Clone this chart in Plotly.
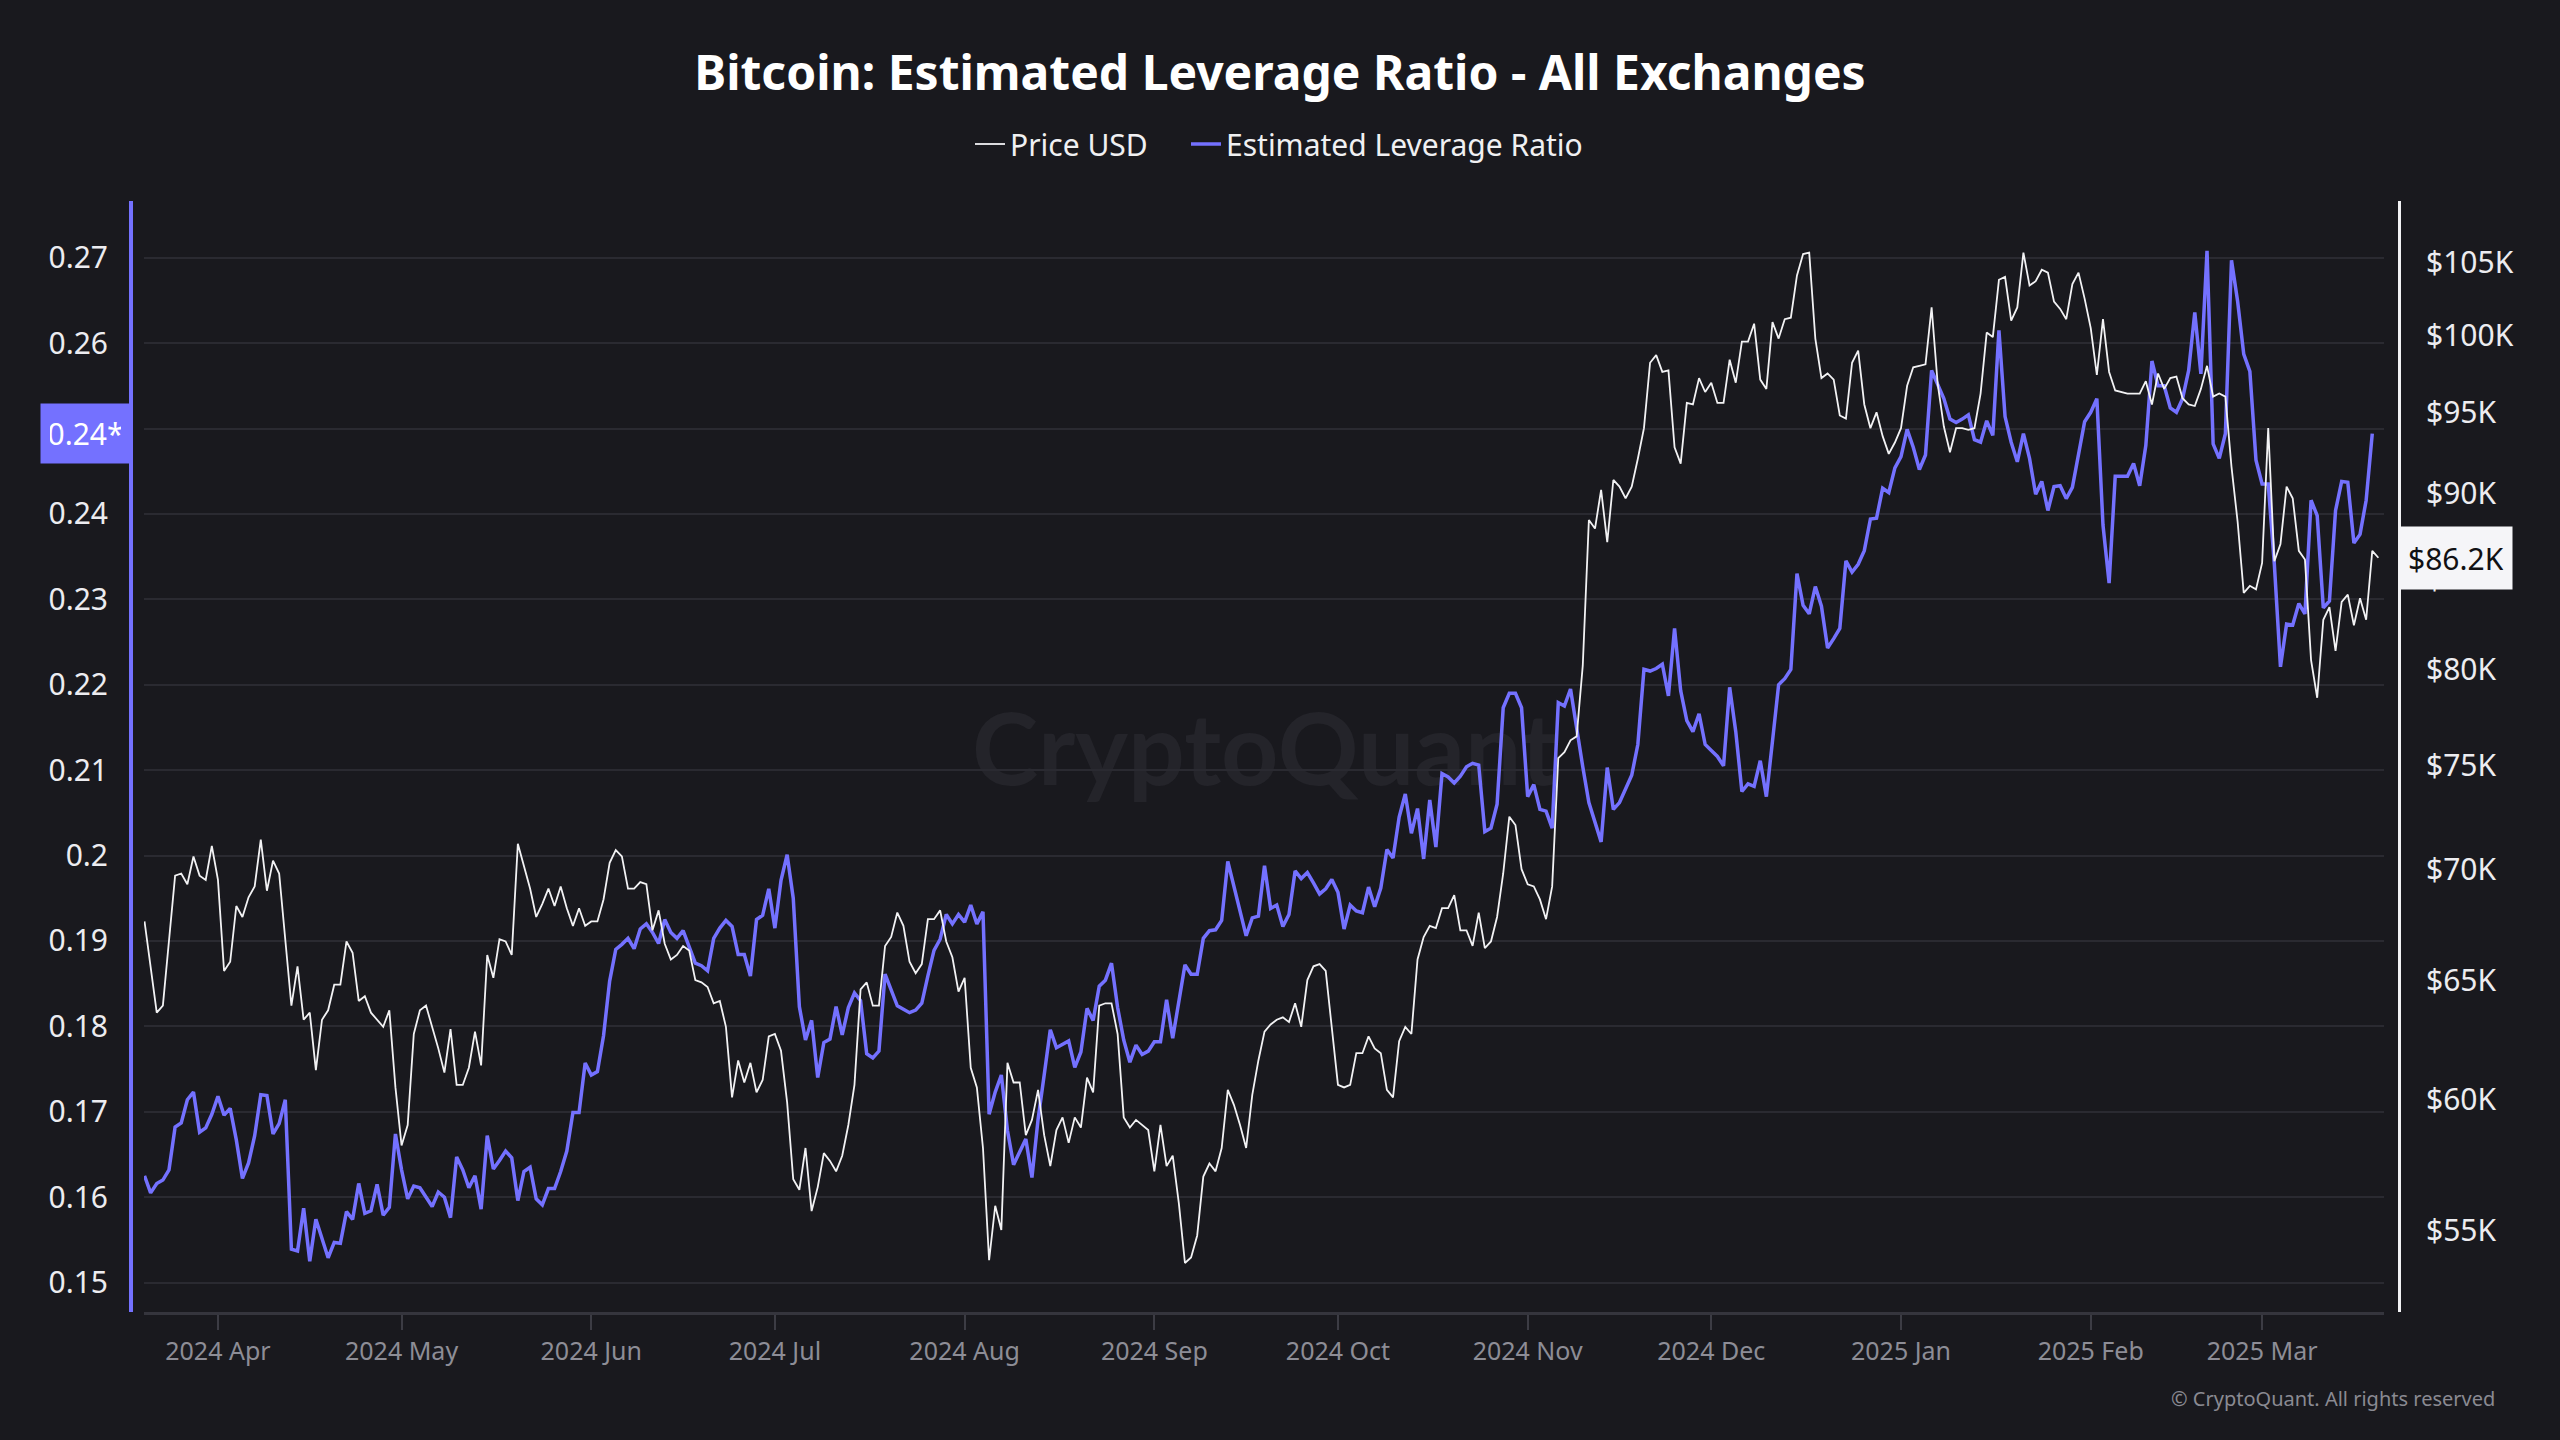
import math
import pandas as pd
import plotly.graph_objects as go

# ---------------- data (daily) ----------------
start_date = "2024-03-20"

price_usd = [
    # 2024-03-20 .. 2024-05-20
    67600, 65500, 63600, 63900, 66800, 69700, 69800, 69300, 70600, 69700,
    69500, 71100, 69500, 65400, 65800, 68300, 67800, 68700, 69200, 71400,
    69000, 70400, 69800, 66800, 63900, 65600, 63300, 63600, 61200, 63300,
    63700, 64800, 64800, 66700, 66200, 64100, 64300, 63600, 63300, 63000,
    63700, 60500, 58200, 59000, 62700, 63700, 63900, 63000, 62100, 61100,
    62900, 60600, 60600, 61300, 62800, 61400, 66100, 65100, 66800, 66700,
    66100, 71200,
    # 2024-05-21 .. 2024-07-19
    70100, 69100, 67800, 68400, 69100, 68300, 69200, 68200, 67400, 68200,
    67400, 67600, 67600, 68600, 70300, 70900, 70600, 69100, 69100, 69400,
    69300, 67200, 68100, 66600, 65900, 66100, 66500, 66300, 65000, 64900,
    64700, 64000, 64100, 63000, 60100, 61600, 60700, 61500, 60300, 60800,
    62600, 62700, 62000, 59900, 56900, 56500, 58100, 55700, 56600, 57900,
    57600, 57200, 57800, 59000, 60600, 64600, 64900, 63900, 63900, 66500,
    # 2024-07-20 .. 2024-09-18
    66900, 68000, 67400, 65800, 65300, 65700, 67700, 67700, 68100, 66700,
    66000, 64500, 65100, 61300, 60500, 58100, 53900, 55900, 55000, 61500,
    60700, 60700, 58600, 59200, 60400, 58600, 57400, 58800, 59300, 58300,
    59300, 58900, 60900, 60300, 63900, 64000, 64000, 62700, 59300, 58900,
    59200, 59000, 58800, 57200, 59000, 57400, 57800, 56000, 53800, 54000,
    54800, 57000, 57500, 57200, 58100, 60400, 59800, 59000, 58100, 60200,
    61600,
    # 2024-09-19 .. 2024-11-17
    62800, 63100, 63300, 63400, 63200, 64000, 63000, 65000, 65600, 65700,
    65400, 63000, 60600, 60500, 60600, 61900, 61900, 62600, 62100, 61900,
    60400, 60100, 62400, 63000, 62700, 65900, 66900, 67400, 67300, 68200,
    68200, 68800, 67200, 67200, 66500, 68000, 66400, 66700, 67800, 69800,
    72500, 72100, 70000, 69300, 69200, 68600, 67700, 69200, 75400, 75700,
    76300, 76500, 80200, 88400, 87900, 90200, 87100, 90800, 90400, 89700,
    # 2024-11-18 .. 2025-01-16
    90400, 92100, 94000, 98200, 98700, 97600, 97700, 92800, 91800, 95600,
    95500, 97200, 96300, 96900, 95600, 95600, 98400, 96900, 99600, 99600,
    100800, 97100, 96500, 100900, 99800, 101100, 101200, 104100, 105600, 105700,
    99800, 97200, 97500, 97100, 94800, 94600, 98200, 99000, 95500, 94000,
    95000, 93500, 92400, 93100, 94000, 96700, 97900, 98000, 98100, 101900,
    96800, 94100, 92500, 94000, 94000, 93900, 94000, 96200, 100200, 99900,
    # 2025-01-17 .. 2025-03-20
    103800, 104000, 101000, 101900, 105700, 103400, 103700, 104500, 104300, 102300,
    101800, 101100, 103500, 104300, 102500, 100500, 97400, 101100, 97600, 96400,
    96300, 96200, 96200, 96200, 97000, 95500, 97500, 96500, 97200, 97300,
    95900, 95500, 95400, 96500, 98000, 96000, 96200, 96000, 91600, 88300,
    84200, 84600, 84400, 85900, 94000, 86000, 87000, 90400, 89700, 86600,
    86100, 80500, 78500, 82700, 83400, 81000, 83700, 84100, 82400, 83900,
    82700, 86600, 86200,
]

leverage_ratio = [
    # 2024-03-20 .. 2024-05-20
    0.1625, 0.1605, 0.1616, 0.1620, 0.1632, 0.1682, 0.1687, 0.1714, 0.1723, 0.1676,
    0.1681, 0.1697, 0.1718, 0.1696, 0.1704, 0.1667, 0.1622, 0.1640, 0.1672, 0.1720,
    0.1719, 0.1674, 0.1686, 0.1714, 0.1539, 0.1537, 0.1587, 0.1525, 0.1574, 0.1551,
    0.1529, 0.1547, 0.1546, 0.1583, 0.1574, 0.1616, 0.1581, 0.1584, 0.1615, 0.1579,
    0.1588, 0.1674, 0.1632, 0.1598, 0.1613, 0.1611, 0.1600, 0.1589, 0.1606, 0.1600,
    0.1576, 0.1647, 0.1632, 0.1611, 0.1625, 0.1586, 0.1672, 0.1633, 0.1643, 0.1654,
    0.1646, 0.1596,
    # 2024-05-21 .. 2024-07-19
    0.1630, 0.1635, 0.1598, 0.1591, 0.1610, 0.1610, 0.1630, 0.1654, 0.1699, 0.1699,
    0.1757, 0.1743, 0.1747, 0.1789, 0.1853, 0.1890, 0.1896, 0.1903, 0.1891, 0.1914,
    0.1920, 0.1910, 0.1897, 0.1925, 0.1910, 0.1903, 0.1912, 0.1894, 0.1874, 0.1871,
    0.1865, 0.1903, 0.1915, 0.1924, 0.1917, 0.1884, 0.1884, 0.1859, 0.1925, 0.1930,
    0.1961, 0.1915, 0.1971, 0.2001, 0.1950, 0.1823, 0.1784, 0.1807, 0.1740, 0.1781,
    0.1785, 0.1823, 0.1790, 0.1822, 0.1839, 0.1830, 0.1768, 0.1763, 0.1771, 0.1861,
    # 2024-07-20 .. 2024-09-18
    0.1843, 0.1824, 0.1820, 0.1816, 0.1819, 0.1827, 0.1859, 0.1889, 0.1902, 0.1931,
    0.1920, 0.1931, 0.1922, 0.1942, 0.1920, 0.1934, 0.1697, 0.1723, 0.1743, 0.1678,
    0.1638, 0.1653, 0.1668, 0.1623, 0.1691, 0.1743, 0.1796, 0.1775, 0.1779, 0.1783,
    0.1752, 0.1770, 0.1821, 0.1807, 0.1847, 0.1854, 0.1874, 0.1822, 0.1784, 0.1758,
    0.1778, 0.1767, 0.1771, 0.1782, 0.1782, 0.1831, 0.1786, 0.1827, 0.1872, 0.1861,
    0.1861, 0.1903, 0.1912, 0.1913, 0.1924, 0.1993, 0.1965, 0.1937, 0.1906, 0.1927,
    0.1929,
    # 2024-09-19 .. 2024-11-17
    0.1988, 0.1938, 0.1942, 0.1917, 0.1931, 0.1982, 0.1973, 0.1980, 0.1968, 0.1955,
    0.1961, 0.1972, 0.1957, 0.1914, 0.1942, 0.1935, 0.1933, 0.1963, 0.1940, 0.1962,
    0.2007, 0.1997, 0.2045, 0.2072, 0.2026, 0.2055, 0.1996, 0.2065, 0.2010, 0.2096,
    0.2092, 0.2085, 0.2093, 0.2104, 0.2108, 0.2106, 0.2028, 0.2032, 0.2060, 0.2173,
    0.2190, 0.2190, 0.2173, 0.2069, 0.2083, 0.2054, 0.2052, 0.2032, 0.2179, 0.2175,
    0.2195, 0.2148, 0.2104, 0.2062, 0.2040, 0.2016, 0.2103, 0.2054, 0.2062, 0.2079,
    # 2024-11-18 .. 2025-01-16
    0.2094, 0.2130, 0.2218, 0.2216, 0.2219, 0.2224, 0.2187, 0.2266, 0.2193, 0.2158,
    0.2145, 0.2166, 0.2130, 0.2123, 0.2116, 0.2105, 0.2197, 0.2145, 0.2075, 0.2084,
    0.2081, 0.2111, 0.2069, 0.2134, 0.2200, 0.2207, 0.2218, 0.2330, 0.2293, 0.2283,
    0.2315, 0.2292, 0.2243, 0.2254, 0.2266, 0.2345, 0.2332, 0.2341, 0.2357, 0.2394,
    0.2395, 0.2430, 0.2425, 0.2454, 0.2467, 0.2499, 0.2478, 0.2452, 0.2469, 0.2568,
    0.2551, 0.2535, 0.2511, 0.2507, 0.2511, 0.2516, 0.2487, 0.2484, 0.2509, 0.2492,
    # 2025-01-17 .. 2025-03-19
    0.2615, 0.2514, 0.2484, 0.2461, 0.2494, 0.2465, 0.2423, 0.2438, 0.2404, 0.2432,
    0.2433, 0.2418, 0.2431, 0.2467, 0.2508, 0.2519, 0.2535, 0.2387, 0.2319, 0.2444,
    0.2444, 0.2444, 0.2459, 0.2433, 0.2480, 0.2579, 0.2550, 0.2550, 0.2524, 0.2519,
    0.2535, 0.2568, 0.2636, 0.2564, 0.2708, 0.2482, 0.2465, 0.2494, 0.2697, 0.2649,
    0.2587, 0.2567, 0.2463, 0.2435, 0.2435, 0.2341, 0.2221, 0.2271, 0.2270, 0.2295,
    0.2283, 0.2416, 0.2398, 0.2290, 0.2298, 0.2404, 0.2438, 0.2437, 0.2366, 0.2376,
    0.2416, 0.2494,
]

leverage_ticks = [0.15, 0.16, 0.17, 0.18, 0.19, 0.20, 0.21, 0.22, 0.23, 0.24, 0.25, 0.26, 0.27]
leverage_tick_labels = ["0.15", "0.16", "0.17", "0.18", "0.19", "0.2", "0.21",
                        "0.22", "0.23", "0.24", "0.25", "0.26", "0.27"]
price_ticks = [55000, 60000, 65000, 70000, 75000, 80000, 85000, 90000, 95000, 100000, 105000]
price_tick_labels = ["$55K", "$60K", "$65K", "$70K", "$75K", "$80K", "$85K",
                     "$90K", "$95K", "$100K", "$105K"]

dates = pd.date_range(start_date, periods=len(price_usd), freq="D")
lev_dates = dates[:len(leverage_ratio)]

# ---------------- styling ----------------
BG = "#19191e"
PURPLE = "#7471ff"
WHITE = "#f2f2f4"
GRID = "#2a2a31"
FONT = "Noto Sans"
W, H = 2560, 1440

fig = go.Figure()
fig.add_trace(go.Scatter(
    x=dates, y=price_usd, name="Price USD", yaxis="y2", mode="lines",
    legend="legend", line=dict(color=WHITE, width=1.8)))
fig.add_trace(go.Scatter(
    x=lev_dates, y=leverage_ratio, name="Estimated Leverage Ratio", yaxis="y",
    mode="lines", legend="legend2", line=dict(color=PURPLE, width=3.5)))

last_lev = leverage_ratio[-1]
last_price = price_usd[-1]

legend_common = dict(orientation="h", xref="container", xanchor="left",
                     yref="container", y=1 - 144 / H, yanchor="middle",
                     font=dict(family=FONT, size=30, color="#f0f0f2"),
                     itemwidth=30, bgcolor="rgba(0,0,0,0)", borderwidth=0)

fig.update_layout(
    width=W, height=H,
    paper_bgcolor=BG, plot_bgcolor=BG,
    margin=dict(l=131, r=161, t=201, b=128),
    font=dict(family=FONT, color="#e8e8ec"),
    title=dict(text="Bitcoin: Estimated Leverage Ratio - All Exchanges",
               x=0.5, xref="container", xanchor="center",
               y=1 - 73 / H, yref="container", yanchor="middle",
               font=dict(family=FONT, size=48, color="#ffffff", weight="bold")),
    showlegend=True,
    legend=dict(legend_common, x=(975 - 5) / W),
    legend2=dict(legend_common, x=(1190 - 4) / W),
    xaxis=dict(type="date", domain=[13 / 2268, 2253 / 2268],
               range=["2024-03-19 22:00", "2025-03-20 22:00"],
               tick0="2024-04-01", dtick="M1", tickformat="%Y %b",
               ticks="outside", ticklen=15, tickwidth=1.5, tickcolor="#3c3c44",
               showline=True, linecolor="#35353d", linewidth=3,
               showgrid=False, zeroline=False,
               tickfont=dict(family=FONT, size=25, color="#8d8d96")),
    yaxis=dict(range=[0.14655, 0.27664], anchor="free", position=0, side="left",
               tickmode="array", tickvals=leverage_ticks, ticktext=leverage_tick_labels,
               showgrid=True, gridcolor=GRID, gridwidth=1.5, zeroline=False,
               showline=True, linecolor=PURPLE, linewidth=4,
               ticks="", ticklabelstandoff=15,
               tickfont=dict(family=FONT, size=30, color="#ececf0")),
    yaxis2=dict(type="log", range=[math.log10(52067), math.log10(109413)],
                overlaying="y", anchor="free", position=1, side="right",
                tickmode="array", tickvals=price_ticks, ticktext=price_tick_labels,
                showgrid=False, zeroline=False,
                showline=True, linecolor=WHITE, linewidth=3,
                ticks="", ticklabelstandoff=19,
                tickfont=dict(family=FONT, size=30, color="#ececf0")),
    hovermode=False,
)

# watermark (drawn beneath the lines)
fig.add_shape(type="rect", xref="paper", yref="paper", x0=0.3, x1=0.7, y0=0.42, y1=0.6,
              line=dict(width=0), fillcolor="rgba(0,0,0,0)", layer="between",
              label=dict(text="CryptoQuant", textposition="middle center",
                         font=dict(family="Lato", size=100, color="#24242a", weight="bold")))

# current-value tags on the axes
fig.add_annotation(xref="paper", x=0, xanchor="right", yref="y", y=last_lev, yanchor="middle",
                   text=f"{math.floor(last_lev * 100) / 100:.2f}*", showarrow=False,
                   bgcolor=PURPLE, borderpad=9, width=71, height=41,
                   font=dict(family=FONT, size=30, color="#ffffff"))
fig.add_annotation(xref="paper", x=1, xanchor="left", yref="y2", y=math.log10(last_price),
                   yanchor="middle", text=f"${last_price / 1000:.1f}K", showarrow=False,
                   bgcolor="#f5f5f8", borderpad=8, height=46,
                   font=dict(family=FONT, size=30, color="#111114"))

# copyright
fig.add_annotation(xref="paper", x=(2497 - 131) / 2268, xanchor="right",
                   yref="paper", y=(1312 - 1398) / 1111, yanchor="middle",
                   text="© CryptoQuant. All rights reserved", showarrow=False,
                   font=dict(family=FONT, size=20, color="#8a8a92"))

fig.write_html(
    "out.html",
    config={"displayModeBar": False},
    post_script="document.body.style.margin='0';document.body.style.overflow='hidden';"
                "document.body.style.background='" + BG + "';",
)
